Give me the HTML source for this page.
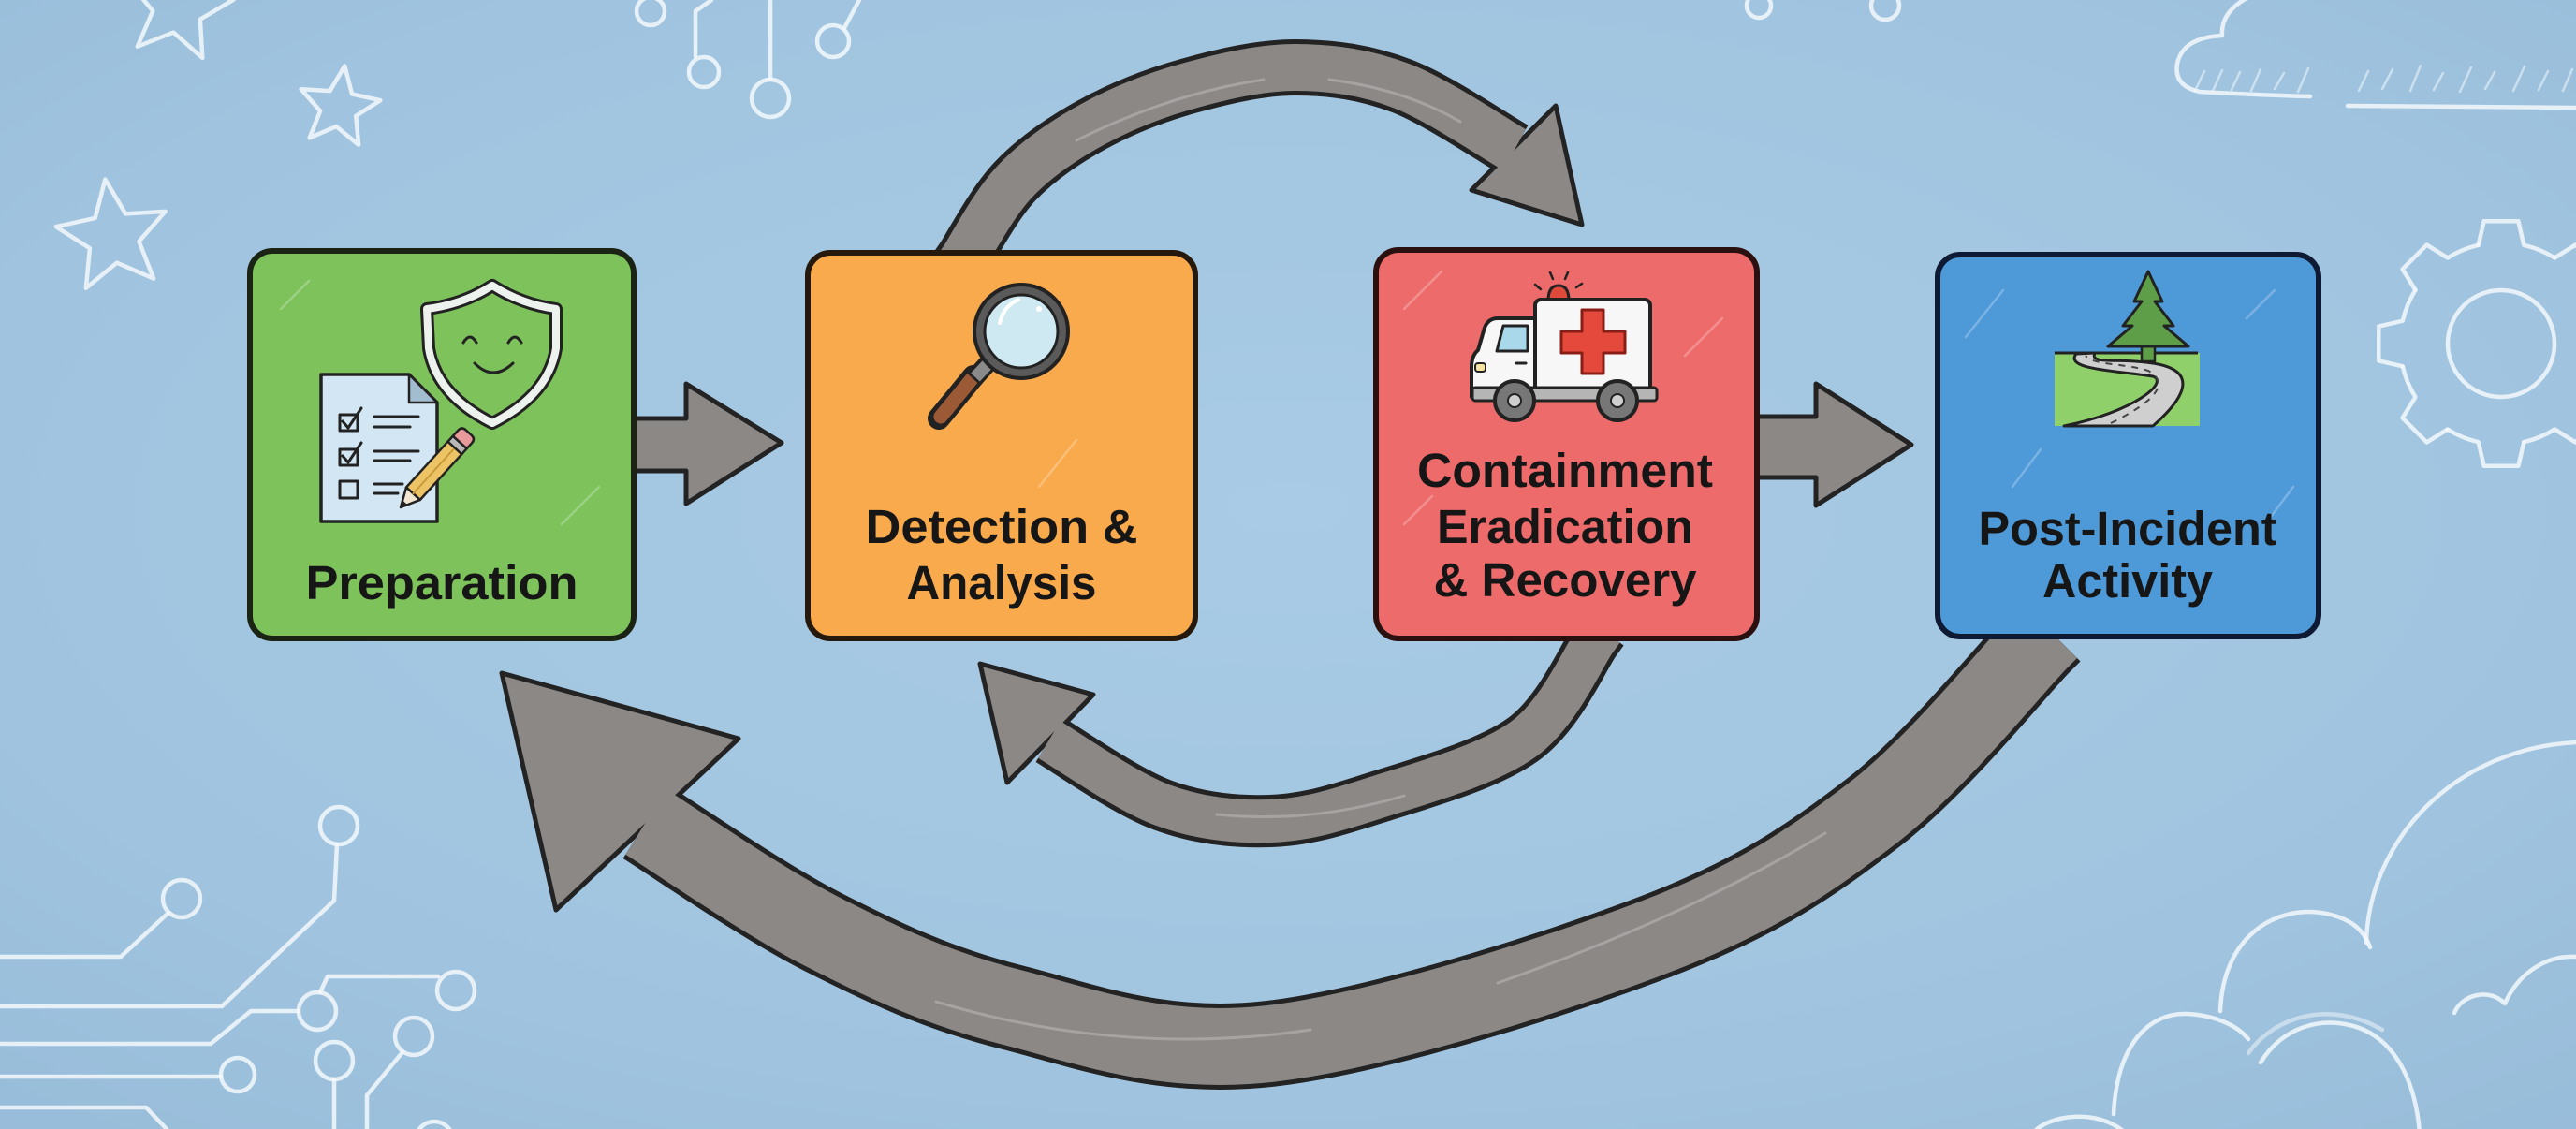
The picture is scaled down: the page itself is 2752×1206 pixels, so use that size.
<!DOCTYPE html>
<html>
<head>
<meta charset="utf-8">
<style>
html,body{margin:0;padding:0;width:2752px;height:1206px;overflow:hidden;background:#a0c4df}
svg{display:block}
text{font-family:"Liberation Sans",Arial,sans-serif;font-weight:bold;fill:#161616}
</style>
</head>
<body>
<svg width="2752" height="1206" viewBox="0 0 2752 1206" xmlns="http://www.w3.org/2000/svg">
<defs>
<radialGradient id="bg" cx="50%" cy="45%" r="75%">
<stop offset="0" stop-color="#a9cbe5"/>
<stop offset="0.7" stop-color="#a0c4df"/>
<stop offset="1" stop-color="#97bcd9"/>
</radialGradient>
</defs>
<rect x="0" y="0" width="2752" height="1206" fill="url(#bg)"/>

<!-- chalk decorations -->
<g fill="none" stroke="#f3f8fc" stroke-opacity="0.85" stroke-width="4.5" stroke-linecap="round" stroke-linejoin="round">
  <!-- stars -->
  <polygon vector-effect="non-scaling-stroke" transform="translate(190,8) scale(60) rotate(10)" points="0,-1 0.2645,-0.364 0.951,-0.309 0.428,0.139 0.588,0.809 0,0.45 -0.588,0.809 -0.428,0.139 -0.951,-0.309 -0.2645,-0.364"/>
  <polygon vector-effect="non-scaling-stroke" transform="translate(362,115) scale(45) rotate(8)" points="0,-1 0.2645,-0.364 0.951,-0.309 0.428,0.139 0.588,0.809 0,0.45 -0.588,0.809 -0.428,0.139 -0.951,-0.309 -0.2645,-0.364"/>
  <polygon vector-effect="non-scaling-stroke" transform="translate(121,253) scale(62) rotate(-8)" points="0,-1 0.2645,-0.364 0.951,-0.309 0.428,0.139 0.588,0.809 0,0.45 -0.588,0.809 -0.428,0.139 -0.951,-0.309 -0.2645,-0.364"/>

  <!-- top circuit -->
  <circle cx="695" cy="12" r="15"/>
  <path d="M 760 0 L 743 12 L 743 60"/>
  <circle cx="752" cy="77" r="16"/>
  <path d="M 823 0 L 823 84"/>
  <circle cx="823" cy="105" r="20"/>
  <circle cx="890" cy="44" r="17"/>
  <path d="M 902 30 L 918 0"/>
  <circle cx="1879" cy="6" r="13"/>
  <circle cx="2014" cy="6" r="15"/>

  <!-- top-right cloud -->
  <path d="M 2468 103 Q 2400 101 2350 98 Q 2322 92 2326 68 Q 2332 40 2374 38 Q 2372 12 2404 -4"/>
  <path d="M 2508 113 L 2752 115"/>
  <path stroke-width="2.5" stroke-opacity="0.55" d="M 2345 97 L 2355 76 M 2364 97 L 2374 75 M 2384 96 L 2393 77 M 2405 97 L 2415 74 M 2430 95 L 2440 78 M 2455 98 L 2466 73 M 2520 97 L 2530 76 M 2545 95 L 2556 74 M 2575 97 L 2586 70 M 2600 96 L 2610 78 M 2628 98 L 2640 72 M 2655 95 L 2665 77 M 2685 97 L 2697 71 M 2712 96 L 2722 76 M 2738 97 L 2748 74"/>

  <!-- gear -->
  <g transform="translate(2672,367) rotate(0)"><path d="M 105.2 -24.3 L 130.7 -18.4 L 130.7 18.4 L 105.2 24.3 A 108 108 0 0 1 91.6 57.2"/></g>
  <g transform="translate(2672,367) rotate(45)"><path d="M 105.2 -24.3 L 130.7 -18.4 L 130.7 18.4 L 105.2 24.3 A 108 108 0 0 1 91.6 57.2"/></g>
  <g transform="translate(2672,367) rotate(90)"><path d="M 105.2 -24.3 L 130.7 -18.4 L 130.7 18.4 L 105.2 24.3 A 108 108 0 0 1 91.6 57.2"/></g>
  <g transform="translate(2672,367) rotate(135)"><path d="M 105.2 -24.3 L 130.7 -18.4 L 130.7 18.4 L 105.2 24.3 A 108 108 0 0 1 91.6 57.2"/></g>
  <g transform="translate(2672,367) rotate(180)"><path d="M 105.2 -24.3 L 130.7 -18.4 L 130.7 18.4 L 105.2 24.3 A 108 108 0 0 1 91.6 57.2"/></g>
  <g transform="translate(2672,367) rotate(225)"><path d="M 105.2 -24.3 L 130.7 -18.4 L 130.7 18.4 L 105.2 24.3 A 108 108 0 0 1 91.6 57.2"/></g>
  <g transform="translate(2672,367) rotate(270)"><path d="M 105.2 -24.3 L 130.7 -18.4 L 130.7 18.4 L 105.2 24.3 A 108 108 0 0 1 91.6 57.2"/></g>
  <g transform="translate(2672,367) rotate(315)"><path d="M 105.2 -24.3 L 130.7 -18.4 L 130.7 18.4 L 105.2 24.3 A 108 108 0 0 1 91.6 57.2"/></g>
  <circle cx="2672" cy="367" r="57"/>

  <!-- bottom-left circuit -->
  <path d="M 0 1022 L 129 1022 L 180 975"/>
  <circle cx="194" cy="960" r="20"/>
  <path d="M 0 1075 L 237 1075 L 357 962 L 360 902"/>
  <circle cx="362" cy="882" r="20"/>
  <path d="M 0 1115 L 225 1115 L 268 1080 L 319 1080"/>
  <circle cx="339" cy="1080" r="20"/>
  <path d="M 342 1060 L 350 1043 L 468 1043"/>
  <circle cx="487" cy="1058" r="20"/>
  <path d="M 0 1150 L 236 1150"/>
  <circle cx="254" cy="1148" r="18"/>
  <path d="M 0 1183 L 156 1183 L 178 1206"/>
  <circle cx="357" cy="1133" r="20"/>
  <path d="M 357 1153 L 357 1210"/>
  <circle cx="442" cy="1107" r="20"/>
  <path d="M 430 1124 L 392 1170 L 392 1210"/>
  <circle cx="464" cy="1218" r="20"/>

  <!-- bottom-right clouds -->
  <path d="M 2528 1007 C 2530 900, 2620 800, 2752 793"/>
  <path d="M 2372 1080 C 2375 1000, 2430 968, 2480 975 C 2510 980, 2525 992, 2532 1012"/>
  <path d="M 2258 1190 C 2262 1110, 2300 1082, 2335 1083 C 2365 1084, 2390 1095, 2402 1110"/>
  <path d="M 2415 1135 C 2440 1095, 2480 1088, 2510 1095 C 2555 1105, 2580 1150, 2585 1210"/>
  <path stroke-opacity="0.5" d="M 2402 1125 C 2430 1085, 2490 1068, 2545 1100"/>
  <path d="M 2172 1210 C 2190 1190, 2240 1185, 2268 1208"/>
  <path d="M 2622 1082 C 2630 1062, 2660 1055, 2676 1072 C 2690 1040, 2720 1020, 2752 1022"/>
</g>

<!-- straight arrows -->
<g fill="#8c8886" stroke="#232323" stroke-width="5" stroke-linejoin="round">
  <polygon points="668,447 733,447 733,410 835,473 733,538 733,503 668,503"/>
  <polygon points="1870,445 1940,445 1940,410 2042,475 1940,540 1940,510 1870,510"/>
</g>

<!-- top arc arrow -->
<path d="M 1019 291 L 1030 275 C 1039 261, 1062 217, 1085 193 C 1108 169, 1136 150, 1167 133 C 1198 116, 1233 102, 1269 92 C 1305 82, 1346 72, 1384 72 C 1422 72, 1459 77, 1498 92 C 1537 107, 1598 149, 1618 160" fill="none" stroke="#232323" stroke-width="60"/>
<polygon points="1662,113 1690,240 1572,203" fill="#8c8886" stroke="#232323" stroke-width="5" stroke-linejoin="round"/>
<path d="M 1019 291 L 1030 275 C 1039 261, 1062 217, 1085 193 C 1108 169, 1136 150, 1167 133 C 1198 116, 1233 102, 1269 92 C 1305 82, 1346 72, 1384 72 C 1422 72, 1459 77, 1498 92 C 1537 107, 1598 149, 1618 160" fill="none" stroke="#8c8886" stroke-width="50"/>

<!-- middle arc arrow -->
<path d="M 1712 673 L 1704 684 C 1691 702, 1666 762, 1627 790 C 1588 818, 1515 837.5, 1470 852 C 1425 866.5, 1395 875.7, 1357 877 C 1319 878.3, 1281 874.5, 1242 860 C 1203 845.5, 1141 802, 1121 790" fill="none" stroke="#232323" stroke-width="56"/>
<polygon points="1047,709 1168,742 1076,836" fill="#8c8886" stroke="#232323" stroke-width="5" stroke-linejoin="round"/>
<path d="M 1712 673 L 1704 684 C 1691 702, 1666 762, 1627 790 C 1588 818, 1515 837.5, 1470 852 C 1425 866.5, 1395 875.7, 1357 877 C 1319 878.3, 1281 874.5, 1242 860 C 1203 845.5, 1141 802, 1121 790" fill="none" stroke="#8c8886" stroke-width="46"/>

<!-- big arc arrow -->
<path d="M 2190 674 L 2178 686 C 2148 717, 2068 817, 2000 869 C 1932 921, 1877 959, 1770 1000 C 1663 1041, 1471 1102, 1356 1115 C 1241 1128, 1160 1096, 1081 1076 C 1002 1056, 945 1029, 880 996 C 815 963, 722 898, 690 878" fill="none" stroke="#232323" stroke-width="92"/>
<polygon points="536,719 789,789 594,972" fill="#8c8886" stroke="#232323" stroke-width="5" stroke-linejoin="round"/>
<path d="M 2190 674 L 2178 686 C 2148 717, 2068 817, 2000 869 C 1932 921, 1877 959, 1770 1000 C 1663 1041, 1471 1102, 1356 1115 C 1241 1128, 1160 1096, 1081 1076 C 1002 1056, 945 1029, 880 996 C 815 963, 722 898, 690 878" fill="none" stroke="#8c8886" stroke-width="82"/>

<!-- chalk streaks on arrows -->
<g fill="none" stroke="#d8d8d8" stroke-opacity="0.35" stroke-width="3" stroke-linecap="round">
  <path d="M 1150 150 Q 1250 100 1350 85"/>
  <path d="M 1420 85 Q 1500 95 1560 130"/>
  <path d="M 1000 1070 Q 1200 1130 1400 1100"/>
  <path d="M 1600 1050 Q 1800 980 1950 890"/>
  <path d="M 1300 870 Q 1400 880 1500 850"/>
</g>

<!-- boxes -->
<rect x="267" y="268" width="410" height="414" rx="24" fill="#7dc25a" stroke="#1b2414" stroke-width="6"/>
<rect x="863" y="270" width="414" height="412" rx="24" fill="#f8aa4c" stroke="#24190c" stroke-width="6"/>
<rect x="1470" y="267" width="407" height="415" rx="24" fill="#ee6b6b" stroke="#2b1010" stroke-width="6"/>
<rect x="2070" y="272" width="407" height="408" rx="24" fill="#4e9ad8" stroke="#0e1a33" stroke-width="6"/>

<!-- faint chalk scratches in boxes -->
<g stroke="#ffffff" stroke-opacity="0.25" stroke-width="2.5" stroke-linecap="round">
  <line x1="300" y1="330" x2="330" y2="300"/>
  <line x1="600" y1="560" x2="640" y2="520"/>
  <line x1="1110" y1="520" x2="1150" y2="470"/>
  <line x1="1500" y1="330" x2="1540" y2="290"/>
  <line x1="1800" y1="380" x2="1840" y2="340"/>
  <line x1="1500" y1="560" x2="1530" y2="530"/>
  <line x1="2100" y1="360" x2="2140" y2="310"/>
  <line x1="2400" y1="340" x2="2430" y2="310"/>
  <line x1="2150" y1="520" x2="2180" y2="480"/>
  <line x1="2420" y1="560" x2="2450" y2="520"/>
</g>

<!-- Preparation icon -->
<g stroke-linecap="round" stroke-linejoin="round">
  <path d="M 526 305 Q 495 325 456 330 L 458 372 Q 466 422 526 452 Q 586 422 594 372 L 594 330 Q 557 325 526 305 Z" fill="#7dc25a" stroke="#222" stroke-width="14"/>
  <path d="M 526 305 Q 495 325 456 330 L 458 372 Q 466 422 526 452 Q 586 422 594 372 L 594 330 Q 557 325 526 305 Z" fill="none" stroke="#eef2ee" stroke-width="8"/>
  <path d="M 495 366 Q 502 354 509 366" fill="none" stroke="#222" stroke-width="3"/>
  <path d="M 543 366 Q 550 354 557 366" fill="none" stroke="#222" stroke-width="3"/>
  <path d="M 507 388 Q 527 408 548 388" fill="none" stroke="#222" stroke-width="3"/>

  <path d="M 343 400 L 437 400 L 467 430 L 467 557 L 343 557 Z" fill="#d3e6f3" stroke="#222" stroke-width="3.5"/>
  <path d="M 437 400 L 437 430 L 467 430 Z" fill="#a3bdd0" stroke="#222" stroke-width="2.5"/>
  <g fill="none" stroke="#222" stroke-width="3">
    <rect x="363" y="443" width="19" height="17"/>
    <rect x="363" y="480" width="19" height="17"/>
    <rect x="363" y="514" width="19" height="18"/>
    <path d="M 366 450 L 372 457 L 386 436"/>
    <path d="M 366 487 L 372 494 L 386 473"/>
    <line x1="400" y1="445" x2="447" y2="445"/>
    <line x1="400" y1="456" x2="438" y2="456"/>
    <line x1="400" y1="482" x2="447" y2="482"/>
    <line x1="400" y1="492" x2="438" y2="492"/>
    <line x1="400" y1="517" x2="430" y2="517"/>
    <line x1="400" y1="527" x2="425" y2="527"/>
  </g>
  <g transform="translate(428,542) rotate(-47.7)">
    <path d="M 0 0 L 20 -10 L 20 10 Z" fill="#f1e6d2" stroke="#222" stroke-width="2.5"/>
    <path d="M 0 0 L 7 -3.5 L 7 3.5 Z" fill="#222"/>
    <rect x="20" y="-10" width="66" height="20" fill="#ecc466" stroke="#222" stroke-width="2.5"/>
    <line x1="20" y1="0" x2="86" y2="0" stroke="#c99a3a" stroke-width="2"/>
    <rect x="86" y="-10" width="8" height="20" fill="#b8b8b8" stroke="#222" stroke-width="2.5"/>
    <path d="M 94 -10 L 102 -10 Q 108 -10 108 -4 L 108 4 Q 108 10 102 10 L 94 10 Z" fill="#e89a9a" stroke="#222" stroke-width="2.5"/>
  </g>
</g>

<!-- Magnifier icon -->
<g stroke-linecap="round">
  <line x1="1040" y1="402" x2="1003" y2="447" stroke="#222" stroke-width="24"/>
  <line x1="1038" y1="405" x2="1005" y2="445" stroke="#9b5a35" stroke-width="15"/>
  <line x1="1060" y1="383" x2="1040" y2="405" stroke="#222" stroke-width="20" stroke-linecap="butt"/>
  <line x1="1058" y1="386" x2="1042" y2="403" stroke="#8a8a8a" stroke-width="13" stroke-linecap="butt"/>
  <circle cx="1091" cy="354" r="50" fill="#5a5a5a" stroke="#222" stroke-width="4"/>
  <circle cx="1091" cy="354" r="39" fill="#cfe9f3" stroke="#222" stroke-width="3"/>
  <path d="M 1068 345 Q 1072 327 1088 320" fill="none" stroke="#ffffff" stroke-width="4"/>
  <circle cx="1110" cy="330" r="3" fill="#ffffff"/>
</g>

<!-- Ambulance icon -->
<g stroke="#222" stroke-linejoin="round" stroke-linecap="round">
  <line x1="1640" y1="304" x2="1646" y2="309" stroke-width="2.5"/>
  <line x1="1656" y1="291" x2="1659" y2="298" stroke-width="2.5"/>
  <line x1="1675" y1="291" x2="1672" y2="298" stroke-width="2.5"/>
  <line x1="1690" y1="303" x2="1684" y2="307" stroke-width="2.5"/>
  <path d="M 1654 321 Q 1654 305 1665 305 Q 1676 305 1676 321 Z" fill="#e04a3a" stroke-width="3"/>
  <rect x="1640" y="320" width="123" height="106" rx="6" fill="#f7f7f7" stroke-width="4"/>
  <path d="M 1640 340 L 1600 340 Q 1590 340 1586 350 L 1579 374 Q 1572 380 1572 392 L 1572 424 L 1640 424 Z" fill="#f7f7f7" stroke-width="4"/>
  <path d="M 1606 348 L 1632 348 L 1632 375 L 1599 375 Z" fill="#a8d8ea" stroke-width="3"/>
  <rect x="1576" y="388" width="11" height="9" rx="3" fill="#f4e4a0" stroke-width="2"/>
  <line x1="1620" y1="388" x2="1630" y2="388" stroke-width="3"/>
  <path d="M 1690 331 H 1713 V 354 H 1736 V 377 H 1713 V 399 H 1690 V 377 H 1668 V 354 H 1690 Z" fill="#e4493b" stroke="#8a1e16" stroke-width="3"/>
  <rect x="1573" y="414" width="197" height="14" rx="3" fill="#b5b5b5" stroke-width="3"/>
  <circle cx="1618" cy="428" r="21" fill="#777" stroke-width="4"/>
  <circle cx="1618" cy="428" r="7" fill="#cfcfcf" stroke-width="2"/>
  <circle cx="1728" cy="428" r="21" fill="#777" stroke-width="4"/>
  <circle cx="1728" cy="428" r="7" fill="#cfcfcf" stroke-width="2"/>
</g>

<!-- Tree & road icon -->
<g stroke="#222" stroke-linejoin="round">
  <rect x="2195" y="377" width="155" height="78" fill="#8fd06a" stroke="none"/>
  <line x1="2195" y1="377" x2="2348" y2="377" stroke-width="3"/>
  <path d="M 2300 455 C 2340 420, 2345 395, 2300 388 C 2262 382, 2232 390, 2238 377 L 2218 378 C 2205 395, 2262 396, 2300 402 C 2318 408, 2280 440, 2205 455 Z" fill="#cfcfcf" stroke-width="3"/>
  <path d="M 2255 452 C 2300 430, 2320 410, 2295 396 C 2270 388, 2235 390, 2228 380" fill="none" stroke="#444" stroke-width="2" stroke-dasharray="7 7"/>
  <rect x="2288" y="368" width="14" height="18" fill="#5f9e48" stroke-width="2.5"/>
  <path d="M 2295 290 L 2310 322 L 2302 322 L 2322 348 L 2312 348 L 2338 370 L 2252 370 L 2278 348 L 2268 348 L 2288 322 L 2280 322 Z" fill="#5f9e48" stroke-width="3"/>
</g>

<!-- labels -->
<text x="472" y="640" font-size="51" text-anchor="middle" textLength="291" lengthAdjust="spacingAndGlyphs">Preparation</text>
<text x="1070" y="580" font-size="51" text-anchor="middle" textLength="291" lengthAdjust="spacingAndGlyphs">Detection &amp;</text>
<text x="1070" y="640" font-size="51" text-anchor="middle" textLength="203" lengthAdjust="spacingAndGlyphs">Analysis</text>
<text x="1672" y="520" font-size="51" text-anchor="middle" textLength="316" lengthAdjust="spacingAndGlyphs">Containment</text>
<text x="1672" y="580" font-size="51" text-anchor="middle" textLength="274" lengthAdjust="spacingAndGlyphs">Eradication</text>
<text x="1672" y="637" font-size="51" text-anchor="middle" textLength="281" lengthAdjust="spacingAndGlyphs">&amp; Recovery</text>
<text x="2273" y="582" font-size="51" text-anchor="middle" textLength="319" lengthAdjust="spacingAndGlyphs">Post-Incident</text>
<text x="2273" y="638" font-size="51" text-anchor="middle" textLength="182" lengthAdjust="spacingAndGlyphs">Activity</text>
</svg>
</body>
</html>
